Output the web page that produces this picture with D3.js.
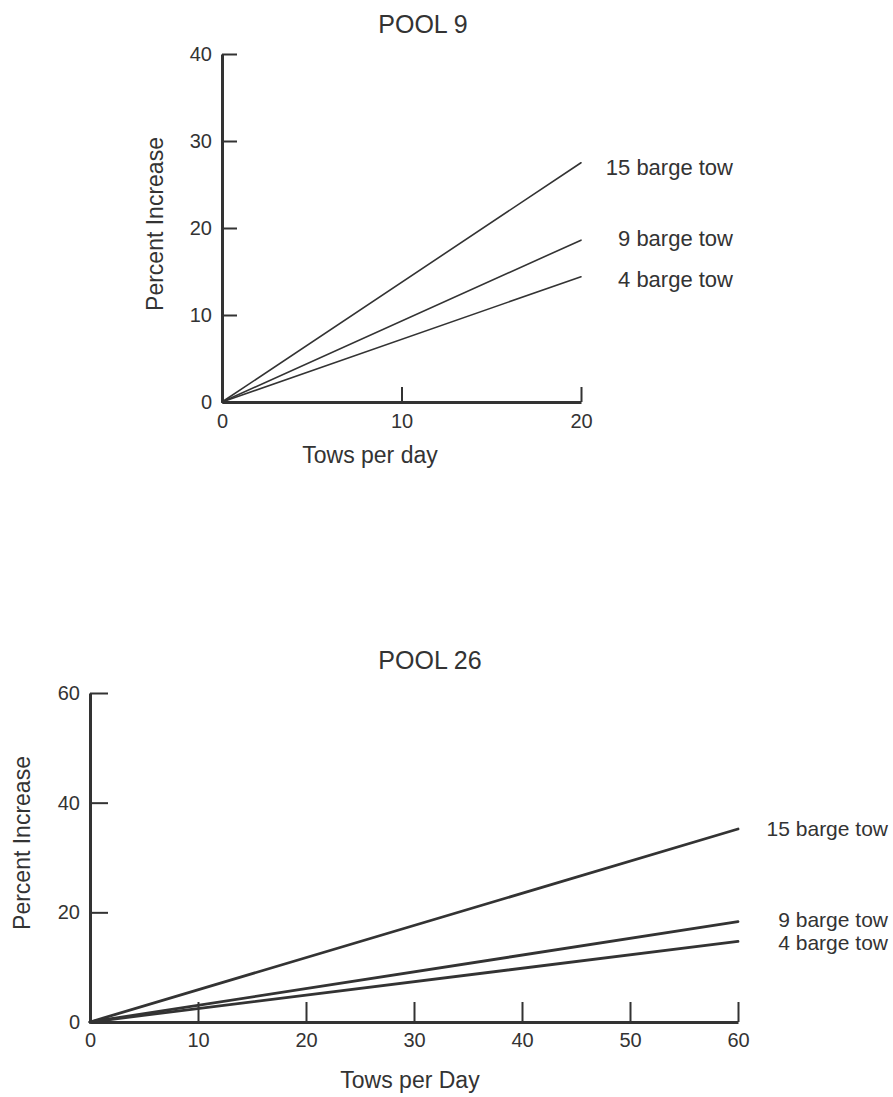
<!DOCTYPE html>
<html>
<head>
<meta charset="utf-8">
<script src="https://cdn.jsdelivr.net/npm/d3@7"></script>
<style>
  body { margin: 0; background: #fff; }
  svg { font-family: 'Liberation Sans', Arial, Helvetica, sans-serif; }
  .tick text { fill: #333; }
</style>
</head>
<body>
<svg width="893" height="1097"></svg>
<script>
// series names, same for both pools
const towNames = ['15 barge tow', '9 barge tow', '4 barge tow'];

// Pool 9: tows per day vs percent increase
const pool9Tows = [0, 20];
const pool9Tow15 = [0, 27.5];
const pool9Tow9 = [0, 18.6];
const pool9Tow4 = [0, 14.4];
const pool9XTicks = [0, 10, 20];
const pool9YTicks = [0, 10, 20, 30, 40];

// Pool 26
const pool26Tows = [0, 60];
const pool26Tow15 = [0, 35.2];
const pool26Tow9 = [0, 18.3];
const pool26Tow4 = [0, 14.7];
const pool26XTicks = [0, 10, 20, 30, 40, 50, 60];
const pool26YTicks = [0, 20, 40, 60];

const svg = d3.select('svg');
const ink = '#333';

const render = opts => {
  const xScale = d3.scaleLinear()
    .domain([0, d3.max(opts.xTicks)])
    .range([opts.left, opts.right]);
  const yScale = d3.scaleLinear()
    .domain([0, d3.max(opts.yTicks)])
    .range([opts.bottom, opts.top]);

  const g = svg.append('g');

  // axes: ticks point inward, labels outside
  const xAxisG = g.append('g')
    .attr('transform', `translate(0, ${opts.bottom})`)
    .call(d3.axisBottom(xScale)
      .tickValues(opts.xTicks)
      .tickFormat(d3.format('d'))
      .tickSizeInner(-opts.xTickLen)
      .tickSizeOuter(0)
      .tickPadding(opts.xPad));

  const yAxisG = g.append('g')
    .attr('transform', `translate(${opts.left}, 0)`)
    .call(d3.axisLeft(yScale)
      .tickValues(opts.yTicks)
      .tickFormat(d3.format('d'))
      .tickSizeInner(-opts.yTickLen)
      .tickSizeOuter(0)
      .tickPadding(opts.yPad));

  [xAxisG, yAxisG].forEach(a => {
    a.select('.domain').attr('stroke', ink).attr('stroke-width', 3);
    a.selectAll('.tick line').attr('stroke', ink).attr('stroke-width', 2);
    a.selectAll('.tick text')
      .attr('font-size', opts.tickFont)
      .attr('fill', ink);
  });

  // lines
  const line = d3.line()
    .x((d, i) => xScale(opts.xs[i]))
    .y(d => yScale(d));

  g.selectAll('path.series').data(opts.series)
    .enter().append('path')
      .attr('class', 'series')
      .attr('d', d => line(d))
      .attr('fill', 'none')
      .attr('stroke', ink)
      .attr('stroke-width', opts.lineWidth)
      .attr('stroke-linecap', 'round');

  // labels right-aligned past the line ends, nudged a little like the print
  g.selectAll('text.series-label').data(opts.series)
    .enter().append('text')
      .attr('class', 'series-label')
      .attr('x', xScale(d3.max(opts.xs)) + opts.labelReach)
      .attr('y', (d, i) => yScale(d[d.length - 1]) + opts.labelNudge[i])
      .attr('dy', '0.35em')
      .attr('text-anchor', 'end')
      .attr('font-size', opts.labelFont)
      .attr('fill', ink)
      .text((d, i) => towNames[i]);

  // title
  g.append('text')
    .attr('x', opts.titleX)
    .attr('y', opts.titleY)
    .attr('text-anchor', 'middle')
    .attr('font-size', 25)
    .attr('fill', ink)
    .text(opts.title);

  // axis labels
  g.append('text')
    .attr('x', opts.xLabelX)
    .attr('y', opts.xLabelY)
    .attr('text-anchor', 'middle')
    .attr('font-size', 23)
    .attr('fill', ink)
    .text(opts.xLabel);

  g.append('text')
    .attr('transform', `translate(${opts.yLabelX}, ${opts.yLabelY}) rotate(-90)`)
    .attr('text-anchor', 'middle')
    .attr('font-size', 23)
    .attr('fill', ink)
    .text('Percent Increase');
};

render({
  title: 'POOL 9', titleX: 423, titleY: 33,
  xLabel: 'Tows per day', xLabelX: 370, xLabelY: 463,
  yLabelX: 163, yLabelY: 224,
  left: 222, right: 581, top: 54, bottom: 402,
  xTicks: pool9XTicks, yTicks: pool9YTicks,
  xTickLen: 15, yTickLen: 15, xPad: 12, yPad: 10,
  xs: pool9Tows, series: [pool9Tow15, pool9Tow9, pool9Tow4],
  lineWidth: 1.6, tickFont: 20, labelFont: 22, labelReach: 152,
  labelNudge: [5, -2, 3]
});

render({
  title: 'POOL 26', titleX: 430, titleY: 669,
  xLabel: 'Tows per Day', xLabelX: 410, xLabelY: 1088,
  yLabelX: 30, yLabelY: 843,
  left: 90, right: 738, top: 693, bottom: 1022,
  xTicks: pool26XTicks, yTicks: pool26YTicks,
  xTickLen: 20, yTickLen: 18, xPad: 11, yPad: 10,
  xs: pool26Tows, series: [pool26Tow15, pool26Tow9, pool26Tow4],
  lineWidth: 2.8, tickFont: 20, labelFont: 21, labelReach: 150,
  labelNudge: [0, -2, 1]
});
</script>
</body>
</html>
